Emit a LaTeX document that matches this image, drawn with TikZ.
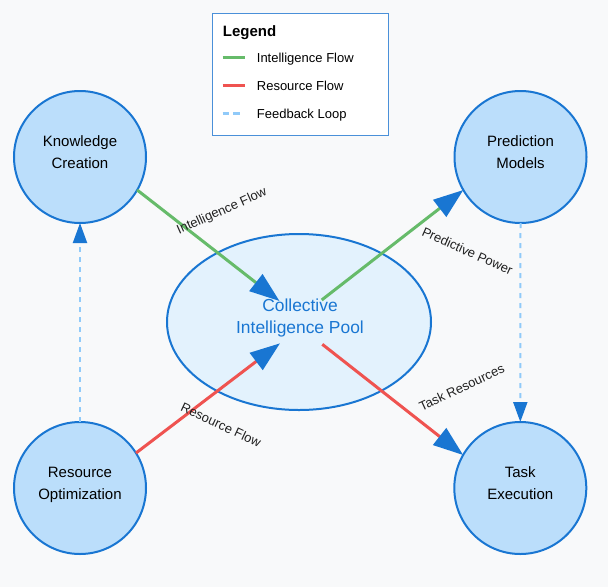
\documentclass[tikz,border=0pt]{standalone}
\usepackage{fontspec}
\setmainfont{Liberation Sans}
\usetikzlibrary{arrows.meta,shapes.geometric}
\definecolor{ablue}{HTML}{1976D2}
\definecolor{cfill}{HTML}{BBDEFB}
\definecolor{efill}{HTML}{E3F2FD}
\definecolor{gline}{HTML}{66BB6A}
\definecolor{rline}{HTML}{EF5350}
\definecolor{dline}{HTML}{90CAF9}
\definecolor{bgcol}{HTML}{F8F9FA}
\definecolor{legborder}{HTML}{4A90D9}
\definecolor{labcol}{HTML}{222222}
\begin{document}
\begin{tikzpicture}[x=1pt,y=-1pt,
  circ/.style={circle,draw=ablue,line width=2pt,fill=cfill,minimum size=132pt,inner sep=0pt,outer sep=0pt},
  ctext/.style={align=center,font=\fontsize{15}{22}\selectfont,text=black,inner sep=0pt},
  pool/.style={ellipse,draw=ablue,line width=2pt,fill=efill,minimum width=264pt,minimum height=176pt,inner sep=0pt,outer sep=0pt},
  pooltext/.style={align=center,font=\fontsize{17.4}{22.7}\selectfont,text=ablue,inner sep=0pt},
  bigtip/.style={-{Triangle[length=30pt,width=21pt,color=ablue]}},
  smalltip/.style={-{Triangle[length=20pt,width=14pt,color=ablue]}},
  iflow/.style={draw=gline,line width=3pt,bigtip},
  rflow/.style={draw=rline,line width=3pt,bigtip},
  fback/.style={draw=dline,line width=2pt,dash pattern=on 5pt off 5pt,smalltip},
  elabel/.style={font=\fontsize{13}{15}\selectfont,text=labcol,inner sep=0pt},
  legtext/.style={font=\fontsize{13}{15}\selectfont,text=black,anchor=base west,inner sep=0pt},
]
\fill[bgcol] (0,0) rectangle (608,587);
\useasboundingbox (0,0) rectangle (608,587);

% legend
\node[draw=legborder,line width=1pt,fill=white,minimum width=176pt,minimum height=122pt,inner sep=0pt,anchor=north west] (legend) at (212,13) {};
\node[font=\bfseries\fontsize{15}{17}\selectfont,anchor=base west,inner sep=0pt] (legtitle) at (222.7,36.4) {Legend};
\draw[gline,line width=3pt] (222.7,57.7) -- (245,57.7);
\node[legtext] (leg1) at (256.7,62.8) {Intelligence Flow};
\draw[rline,line width=3pt] (222.7,85.7) -- (245,85.7);
\node[legtext] (leg2) at (256.7,90.6) {Resource Flow};
\draw[dline,line width=3pt,dash pattern=on 6.5pt off 4pt] (222.7,113.3) -- (240,113.3);
\node[legtext] (leg3) at (256.7,118.1) {Feedback Loop};

% central pool
\node[pool] (pool) at (299,322) {};
\node[pooltext] (poolt) at (300,318) {Collective\\Intelligence Pool};

% circles
\node[circ] (kc) at (80,157) {};
\node[ctext] (kct) at (80,152) {Knowledge\\Creation};
\node[circ] (pm) at (520.5,157) {};
\node[ctext] (pmt) at (520.5,152) {Prediction\\Models};
\node[circ] (ro) at (80,488) {};
\node[ctext] (rot) at (80,484.5) {Resource\\Optimization};
\node[circ] (te) at (520.3,488) {};
\node[ctext] (tet) at (520.3,483) {Task\\Execution};

% arrow end points inside the pool
\coordinate (t1) at (279.5,301);
\coordinate (s2) at (321.7,300);
\coordinate (t3) at (280,343.3);
\coordinate (s4) at (322.3,344.3);

% connectors
\draw[iflow] (kc.-30) -- (t1);
\draw[iflow] (s2) -- (pm.210);
\draw[rflow] (ro.32) -- (t3);
\draw[rflow] (s4) -- (te.150);
\draw[fback] (ro.north) -- (kc.south);
\draw[fback] (pm.south) -- (te.north);

% labels
\node[elabel,rotate=24] (lab1) at (222,211.5) {Intelligence Flow};
\node[elabel,rotate=-24] (lab2) at (467.5,251) {Predictive Power};
\node[elabel,rotate=-25] (lab3) at (221,425) {Resource Flow};
\node[elabel,rotate=25] (lab4) at (461.7,387.5) {Task Resources};
\end{tikzpicture}
\end{document}
